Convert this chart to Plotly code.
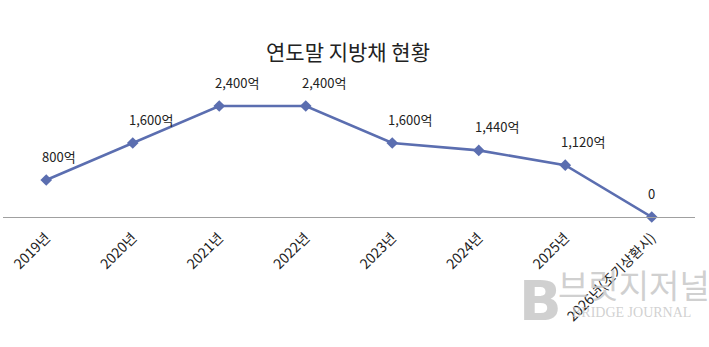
import plotly.graph_objects as go

# Year-end local government bond balance (unit: 억 KRW)
years = ["2019년", "2020년", "2021년", "2022년", "2023년", "2024년", "2025년", "2026년(조기상환시)"]
balance = [800, 1600, 2400, 2400, 1600, 1440, 1120, 0]
value_labels = ["800억", "1,600억", "2,400억", "2,400억", "1,600억", "1,440억", "1,120억", "0"]

FONT = "Noto Sans CJK KR, Malgun Gothic, sans-serif"
LINE_COLOR = "#5b6eb0"

W, H = 709, 347
ML, MR, MT, MB = 3, 14, 40, 130
pw, ph = W - ML - MR, H - MT - MB


def px_to_paper(px, py):
    return (px - ML) / pw, (H - MB - py) / ph


fig = go.Figure()
fig.add_trace(go.Scatter(
    x=years,
    y=balance,
    mode="lines+markers",
    line=dict(color=LINE_COLOR, width=2.6),
    marker=dict(symbol="diamond", size=9, color=LINE_COLOR),
    cliponaxis=False,
    hoverinfo="skip",
))

# value labels above each point
for yr, val, txt in zip(years, balance, value_labels):
    fig.add_annotation(
        x=yr, y=val, text=txt, showarrow=False,
        xanchor="left", yanchor="middle", xshift=-6, yshift=24,
        font=dict(family=FONT, size=13, color="#222222"),
    )

# publisher watermark
wm_color = "rgba(200,200,200,0.85)"
for (px, py), text, fam, size in [
    ((540, 300), "<b>B</b>", "DejaVu Sans", 56),
    ((634, 284), "브릿지저널", FONT, 33),
    ((631, 312), "BRIDGE JOURNAL", "Liberation Serif", 14),
]:
    ax, ay = px_to_paper(px, py)
    fig.add_annotation(
        x=ax, y=ay, xref="paper", yref="paper", text=text, showarrow=False,
        xanchor="center", yanchor="middle",
        font=dict(family=fam, size=size, color=wm_color),
    )

fig.update_layout(
    width=W, height=H,
    margin=dict(l=ML, r=MR, t=MT, b=MB),
    paper_bgcolor="white",
    plot_bgcolor="white",
    showlegend=False,
    title=dict(
        text="연도말 지방채 현황",
        x=348 / W, xanchor="center",
        y=1 - 53 / H, yanchor="middle", yref="container",
        font=dict(family=FONT, size=21, color="#222222"),
    ),
    xaxis=dict(
        type="category",
        range=[-0.5, 7.5],
        showline=True, linecolor="#a0a0a0", linewidth=1.3,
        showgrid=False, ticks="",
        tickangle=-45,
        ticklabelstandoff=6,
        tickfont=dict(family=FONT, size=14, color="#222222"),
        fixedrange=True,
    ),
    yaxis=dict(
        range=[0, 2400 * ph / 111],
        visible=False,
        showgrid=False, zeroline=False,
        fixedrange=True,
    ),
)

fig.write_html("out.html")
